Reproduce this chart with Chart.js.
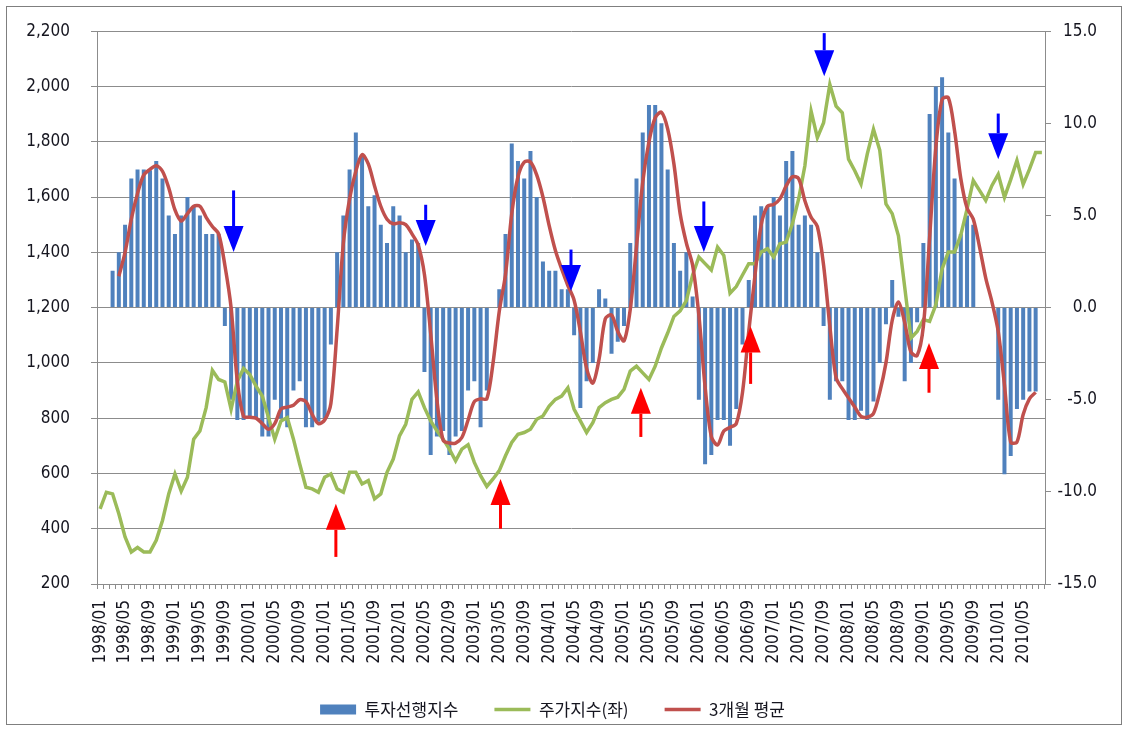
<!DOCTYPE html>
<html><head><meta charset="utf-8">
<script src="https://cdn.jsdelivr.net/npm/chart.js@4.4.1/dist/chart.umd.min.js"></script>
<style>html,body{margin:0;padding:0;background:#fff;}canvas{display:block;}</style>
</head><body>
<canvas id="c" width="1128" height="731"></canvas>
<script>
// ---- categories: monthly 1998/01 .. 2010/08 ----
const startYear = 1998;
const monthCount = 152;
const months = [];
for (let i = 0; i < monthCount; i++) {
  months.push((startYear + Math.floor(i / 12)) + '/' + String(i % 12 + 1).padStart(2, '0'));
}
const labelEvery = 4;

// 주가지수 (left axis)
const stockIndex = [
  472,532,526,454,370,316,332,316,316,358,430,526,
  598,536,586,724,754,838,973,940,931,832,934,980,
  958,916,880,802,724,790,802,724,634,550,544,532,
  586,598,544,532,604,604,562,574,508,526,604,652,
  736,778,868,895,838,790,754,724,688,646,688,704,
  640,592,553,580,610,664,712,742,748,760,796,808,
  844,868,880,910,832,790,748,784,838,856,868,876,
  904,970,988,964,940,988,1054,1108,1168,1188,1225,1318,
  1383,1359,1336,1419,1389,1252,1276,1318,1359,1359,1401,1413,
  1383,1431,1437,1503,1593,1713,1911,1815,1869,2007,1929,1905,
  1737,1695,1647,1755,1845,1770,1575,1540,1460,1275,1090,1114,
  1157,1150,1210,1340,1401,1401,1463,1556,1660,1624,1588,1642,
  1682,1599,1663,1732,1646,1700,1761,1761
];

// 투자선행지수 (right axis)
const investLeading = [
  null,null,2.0,3.0,4.5,7.0,7.5,7.5,7.45,7.95,7.0,5.0,
  4.0,5.0,6.0,5.5,5.0,4.0,4.0,4.0,-1.0,-5.0,-6.1,-6.1,
  -6.0,-6.0,-7.0,-7.0,-5.0,-6.0,-6.5,-4.5,-4.0,-6.5,-6.5,-6.2,
  -6.0,-2.0,3.0,5.0,7.5,9.5,8.2,5.5,6.1,4.5,3.5,5.5,
  5.0,3.0,3.7,3.5,-3.5,-8.0,-7.0,-6.7,-8.0,-7.0,-6.7,-4.5,
  -4.0,-6.5,-4.5,null,1.0,4.0,8.9,7.95,7.0,8.5,6.0,2.5,
  2.0,2.0,1.0,1.0,-1.5,-5.45,-4.0,-3.0,1.0,0.5,-2.5,-1.85,
  -1.0,3.5,7.0,9.5,11.0,11.0,10.0,7.5,3.5,2.0,3.0,0.6,
  -5.0,-8.5,-8.0,-6.1,-6.1,-7.5,-5.5,-2.0,1.5,5.0,5.5,5.5,
  6.0,5.0,7.95,8.5,4.5,5.0,4.5,3.0,-1.0,-5.0,-4.0,-4.0,
  -6.1,-6.1,-5.6,-6.1,-5.1,-3.0,-0.9,1.5,-0.5,-4.0,-3.0,-0.8,
  3.5,10.5,12.0,12.5,9.5,7.0,4.0,5.0,4.5,null,null,null,
  -5.0,-9.05,-8.05,-5.5,-5.0,-4.55,-4.55,null
];

// 3개월 평균 (right axis)
const avg3 = [
  null,null,null,1.7,3.0,4.8,6.2,7.2,7.5,7.7,7.4,6.5,
  5.3,4.7,5.1,5.5,5.5,4.9,4.4,4.0,2.3,0.0,-4.0,-5.9,
  -5.95,-6.0,-6.3,-6.6,-6.3,-5.5,-5.4,-5.3,-5.0,-5.1,-5.8,-6.3,
  -6.1,-5.2,-1.2,3.5,5.9,7.4,8.3,7.8,6.6,5.5,4.8,4.55,
  4.6,4.5,4.0,3.4,1.8,-1.4,-5.0,-7.2,-7.35,-7.35,-7.05,-6.1,
  -5.1,-4.95,-4.95,-3.0,-0.2,1.8,5.1,7.1,7.9,7.9,7.2,6.0,
  4.45,3.1,2.1,1.2,0.4,-1.3,-3.3,-4.1,-2.8,-0.6,-0.4,-1.3,
  -1.8,-0.1,3.3,6.8,9.0,10.3,10.6,9.7,7.8,5.1,3.5,2.3,
  -0.4,-4.3,-7.0,-7.45,-6.7,-6.5,-6.3,-4.6,-1.3,1.75,4.5,5.5,
  5.6,5.9,6.6,7.1,7.0,5.8,4.9,4.4,2.3,-1.0,-3.8,-4.4,
  -4.9,-5.4,-5.9,-5.95,-5.75,-4.6,-3.0,-0.7,0.3,-0.8,-2.4,-2.6,
  -1.0,3.8,8.7,11.3,11.4,9.6,7.0,5.4,4.8,3.3,1.6,0.3,
  -1.3,-4.2,-7.3,-7.3,-5.8,-4.95,-4.6,null
];

// axis ranges
const leftMin = 200, leftMax = 2200, leftStep = 200;
const rightMin = -15, rightMax = 15, rightStep = 5;

// annotation arrows: position in months (index), start/end value on the left axis
const downArrowAt   = [21.4, 52.2, 75.5, 96.8, 116.1, 144.0];
const downArrowFrom = [1624, 1572, 1410, 1584, 2193, 1902];
const downArrowTo   = [1401, 1423, 1260, 1401, 2037, 1737];
const upArrowAt     = [37.8, 64.2, 86.7, 104.3, 132.9];
const upArrowFrom   = [298, 400, 732, 924, 892];
const upArrowTo     = [490, 580, 910, 1132, 1072];

const tickFont = {family: "'DejaVu Sans Condensed','DejaVu Sans',sans-serif", size: 17};
const textColor = '#15151f';
const gridColor = '#8c8c8c';

const framePlugin = {
  id: 'frame',
  beforeDraw(chart) {
    const c = chart.ctx;
    c.save();
    c.fillStyle = '#fff';
    c.fillRect(0, 0, chart.width, chart.height);
    c.strokeStyle = '#7f7f7f';
    c.lineWidth = 1;
    c.strokeRect(6.5, 6.5, chart.width - 13, chart.height - 13);
    c.restore();
  }
};

const arrowPlugin = {
  id: 'arrows',
  afterDatasetsDraw(chart) {
    const c = chart.ctx, x = chart.scales.x, y = chart.scales.yL;
    const headW = 20, headH = 26, shaftW = 3;
    function arrow(at, from, to, color) {
      const px = x.getPixelForValue(at);
      const y0 = y.getPixelForValue(from), y1 = y.getPixelForValue(to);
      const dir = y1 > y0 ? 1 : -1;
      c.save();
      c.strokeStyle = color; c.fillStyle = color; c.lineWidth = shaftW;
      c.beginPath(); c.moveTo(px, y0); c.lineTo(px, y1 - dir * headH); c.stroke();
      c.beginPath(); c.moveTo(px, y1);
      c.lineTo(px - headW / 2, y1 - dir * headH);
      c.lineTo(px + headW / 2, y1 - dir * headH);
      c.closePath(); c.fill();
      c.restore();
    }
    downArrowAt.forEach((a, i) => arrow(a, downArrowFrom[i], downArrowTo[i], '#0000ff'));
    upArrowAt.forEach((a, i) => arrow(a, upArrowFrom[i], upArrowTo[i], '#ff0000'));
  }
};

new Chart(document.getElementById('c'), {
  data: {
    labels: months,
    datasets: [
      {type: 'bar', label: '투자선행지수', data: investLeading, yAxisID: 'yR',
       backgroundColor: '#4F81BD', borderWidth: 0, barPercentage: 0.64, categoryPercentage: 1, order: 3},
      {type: 'line', label: '주가지수(좌)', data: stockIndex, yAxisID: 'yL',
       borderColor: '#9BBB59', backgroundColor: '#9BBB59', borderWidth: 3.5, pointRadius: 0, tension: 0, order: 2},
      {type: 'line', label: '3개월 평균', data: avg3, yAxisID: 'yR',
       borderColor: '#C0504D', backgroundColor: '#C0504D', borderWidth: 3.5, pointRadius: 0, tension: 0.3, order: 1}
    ]
  },
  options: {
    responsive: false, animation: false, devicePixelRatio: 1,
    layout: {padding: {left: 8, right: 31, top: 28, bottom: 3}},
    plugins: {
      tooltip: {enabled: false},
      legend: {
        position: 'bottom',
        labels: {
          usePointStyle: true, pointStyleWidth: 36, boxHeight: 10, padding: 36,
          color: textColor,
          font: {family: "'Noto Sans CJK KR','DejaVu Sans',sans-serif", size: 17},
          sort: (a, b) => a.datasetIndex - b.datasetIndex,
          generateLabels: (chart) => chart.data.datasets.map((ds, i) => ({
            text: ds.label, datasetIndex: i, hidden: false,
            fillStyle: ds.backgroundColor, strokeStyle: i === 0 ? ds.backgroundColor : ds.borderColor,
            lineWidth: i === 0 ? 0 : 3.5, pointStyle: i === 0 ? 'rect' : 'line', fontColor: textColor
          }))
        }
      }
    },
    scales: {
      x: {
        type: 'category', offset: true,
        grid: {offset: true, drawOnChartArea: false, drawTicks: true, tickLength: 5, color: gridColor},
        border: {color: gridColor, width: 1},
        ticks: {autoSkip: false, maxRotation: 90, minRotation: 90, padding: 11, font: tickFont, color: textColor,
                callback: (v, i) => (i % labelEvery === 0 ? months[i] : '')},
        afterFit: (s) => { s.height = 81; }
      },
      yL: {
        position: 'left', min: leftMin, max: leftMax,
        grid: {color: gridColor, tickLength: 6, drawTicks: true},
        border: {color: gridColor, width: 1},
        ticks: {stepSize: leftStep, padding: 21, font: tickFont, color: textColor,
                callback: (v) => v.toLocaleString('en-US')},
        afterFit: (s) => { s.width = 89; }
      },
      yR: {
        position: 'right', min: rightMin, max: rightMax,
        grid: {drawOnChartArea: false, tickLength: 6, drawTicks: true, color: gridColor},
        border: {color: gridColor, width: 1},
        ticks: {stepSize: rightStep, padding: 6, crossAlign: 'far', font: tickFont, color: textColor,
                callback: (v) => v.toFixed(1)},
        afterFit: (s) => { s.width = 52; }
      }
    }
  },
  plugins: [framePlugin, arrowPlugin]
});
</script>
</body></html>
